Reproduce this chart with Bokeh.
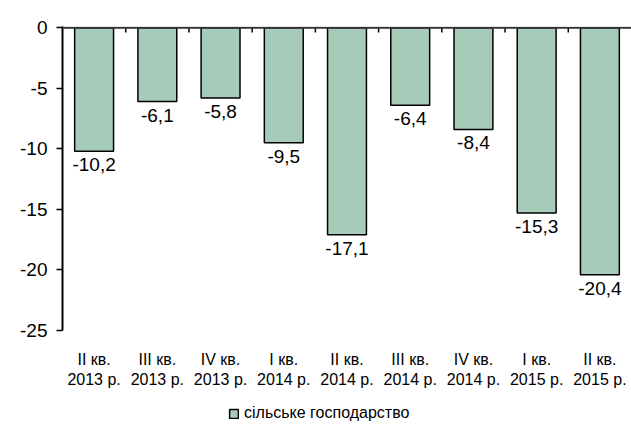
from bokeh.plotting import figure
from bokeh.layouts import column
from bokeh.models import ColumnDataSource, Range1d, FixedTicker, Span, Legend, LegendItem
from bokeh.core.properties import value
from bokeh.embed import file_html
from bokeh.resources import INLINE

quarters = ["II кв.", "III кв.", "IV кв.", "I кв.", "II кв.", "III кв.", "IV кв.", "I кв.", "II кв."]
years = ["2013 р.", "2013 р.", "2013 р.", "2014 р.", "2014 р.", "2014 р.", "2014 р.", "2015 р.", "2015 р."]
values = [-10.2, -6.1, -5.8, -9.5, -17.1, -6.4, -8.4, -15.3, -20.4]
series_name = "сільське господарство"
y_ticks = [0, -5, -10, -15, -20, -25]

n = len(values)
xs = [i + 0.5 for i in range(n)]
labels = [("%.1f" % v).replace(".", ",") for v in values]

src = ColumnDataSource(dict(x=xs, top=values, lab=labels))

FONT = "Liberation Sans"
BAR_FILL = "#A6CBB9"

p = figure(width=631, height=390, output_backend="svg", toolbar_location=None,
           x_range=Range1d(0, n), y_range=Range1d(-25, 0.1),
           min_border_left=62, min_border_right=0, min_border_top=26, min_border_bottom=51)
p.outline_line_color = None
p.grid.visible = False
p.background_fill_color = "white"

r = p.vbar(x="x", top="top", bottom=0, width=0.615, source=src,
           fill_color=BAR_FILL, line_color="black", line_width=1.5)

p.text(x="x", y="top", text="lab", source=src, text_align="center", text_baseline="top",
       y_offset=7, text_font=value(FONT), text_font_size="19px", text_color="black")

# zero line with category separators
p.add_layout(Span(location=0, dimension="width", line_color="#333333", line_width=2))
sep = list(range(1, n))
p.segment(x0=sep, x1=sep, y0=[0] * len(sep), y1=[-0.4] * len(sep), line_color="black", line_width=1.5)

# x axis
xa = p.xaxis[0]
xa.ticker = FixedTicker(ticks=xs)
xa.major_label_overrides = {x: q + "\n" + y for x, q, y in zip(xs, quarters, years)}
xa.axis_line_color = None
xa.major_tick_line_color = None
xa.minor_tick_line_color = None
xa.major_label_standoff = 14
xa.major_label_text_font = FONT
xa.major_label_text_font_size = "16px"
xa.major_label_text_color = "black"

# y axis
ya = p.yaxis[0]
ya.ticker = FixedTicker(ticks=y_ticks)
ya.major_label_overrides = {t: str(t) for t in y_ticks}
ya.axis_line_color = "black"
ya.axis_line_width = 2
ya.major_tick_line_color = "black"
ya.major_tick_line_width = 1.5
ya.major_tick_in = 0
ya.major_tick_out = 6
ya.minor_tick_line_color = None
ya.major_label_standoff = 9
ya.major_label_text_font = FONT
ya.major_label_text_font_size = "19px"
ya.major_label_text_color = "black"

# legend strip
p2 = figure(width=631, height=39, output_backend="svg", toolbar_location=None,
            x_range=Range1d(0, 1), y_range=Range1d(0, 1),
            min_border_left=0, min_border_right=0, min_border_top=0, min_border_bottom=0)
p2.axis.visible = False
p2.grid.visible = False
p2.outline_line_color = None
nan = float("nan")
dummy = p2.vbar(x=[nan], top=[nan], bottom=[nan], width=0.5,
                fill_color=BAR_FILL, line_color="black", line_width=1.5)
legend = Legend(items=[LegendItem(label=series_name, renderers=[dummy])],
                location=(166, 7), orientation="horizontal",
                glyph_width=11, glyph_height=11, label_standoff=5,
                label_text_font=FONT, label_text_font_size="16px", label_text_color="black",
                border_line_color=None, background_fill_alpha=0,
                padding=0, margin=0)
p2.add_layout(legend, "center")

open("out.html", "w").write(file_html(column(p, p2, spacing=0), INLINE))
